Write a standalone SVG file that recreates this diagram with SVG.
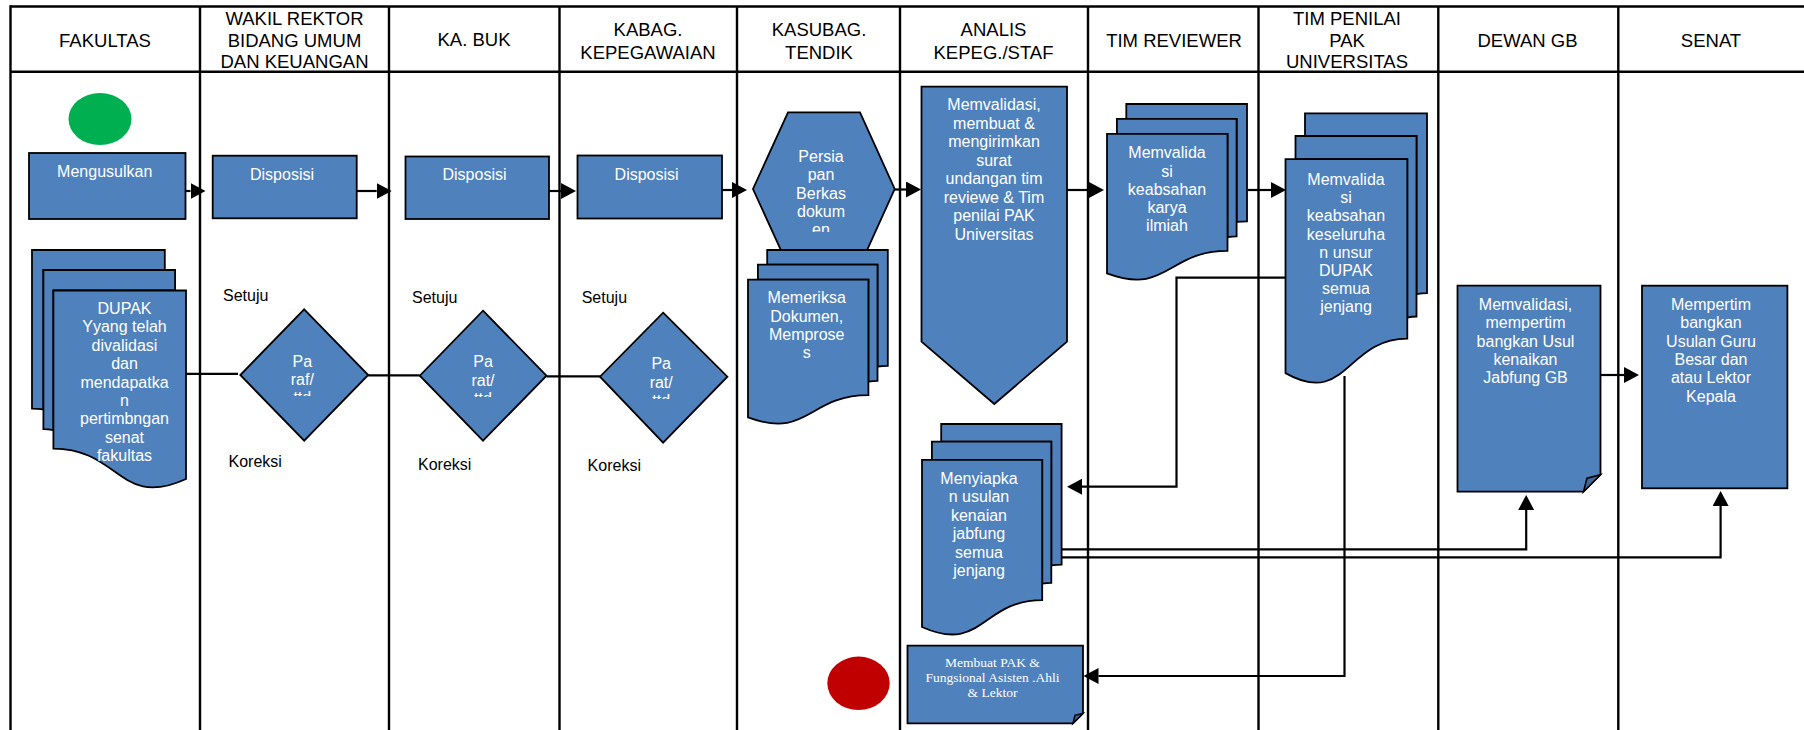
<svg xmlns="http://www.w3.org/2000/svg" width="1804" height="730" viewBox="0 0 1804 730">
<style>
.grid{stroke:#000;stroke-width:2.4;fill:none}
.hd{font-family:"Liberation Sans",Arial,sans-serif;font-size:18.5px;fill:#000;text-anchor:middle}
.sh{fill:#4F81BD;stroke:#000;stroke-width:1.8;stroke-linejoin:miter}
.fold{fill:#3F6797;stroke:#000;stroke-width:1.5}
.wt{font-family:"Liberation Sans",Arial,sans-serif;font-size:16px;fill:#fff;text-anchor:middle}
.wts{font-family:"Liberation Serif","Times New Roman",serif;font-size:13.5px;fill:#fff;text-anchor:middle}
.lb{font-family:"Liberation Sans",Arial,sans-serif;font-size:16px;fill:#000}
.cn{stroke:#000;stroke-width:2.2;fill:none}
.ar{marker-end:url(#ah)}
</style>
<defs>
<marker id="ah" markerWidth="15" markerHeight="16" refX="0" refY="8" orient="auto" markerUnits="userSpaceOnUse" viewBox="0 0 15 16"><path d="M0,0 L15,8 L0,16 Z" fill="#000"/></marker>
<clipPath id="cHex"><rect x="740" y="100" width="170" height="132"/></clipPath>
<clipPath id="cD1"><rect x="230" y="300" width="150" height="96"/></clipPath>
<clipPath id="cD2"><rect x="410" y="300" width="150" height="97"/></clipPath>
<clipPath id="cD3"><rect x="590" y="300" width="150" height="99"/></clipPath>
</defs>
<rect x="0" y="0" width="1804" height="730" fill="#fff"/>
<g id="grid">
<line class="grid" x1="10.5" y1="6.5" x2="1804" y2="6.5"/>
<line class="grid" x1="10.5" y1="71.7" x2="1804" y2="71.7"/>
<line class="grid" x1="10.5" y1="5.3" x2="10.5" y2="730"/>
<line class="grid" x1="200" y1="6.5" x2="200" y2="730"/>
<line class="grid" x1="389" y1="6.5" x2="389" y2="730"/>
<line class="grid" x1="559.5" y1="6.5" x2="559.5" y2="730"/>
<line class="grid" x1="737" y1="6.5" x2="737" y2="730"/>
<line class="grid" x1="900" y1="6.5" x2="900" y2="730"/>
<line class="grid" x1="1088" y1="6.5" x2="1088" y2="730"/>
<line class="grid" x1="1258.5" y1="6.5" x2="1258.5" y2="730"/>
<line class="grid" x1="1438.3" y1="6.5" x2="1438.3" y2="730"/>
<line class="grid" x1="1618.3" y1="6.5" x2="1618.3" y2="730"/>
</g>
<g id="headers">
<text class="hd" x="105" y="46.5">FAKULTAS</text>
<text class="hd"><tspan x="294.5" y="25">WAKIL REKTOR</tspan><tspan x="294.5" y="46.7">BIDANG UMUM</tspan><tspan x="294.5" y="68.3">DAN KEUANGAN</tspan></text>
<text class="hd" x="474" y="46">KA. BUK</text>
<text class="hd"><tspan x="648" y="36">KABAG.</tspan><tspan x="648" y="59">KEPEGAWAIAN</tspan></text>
<text class="hd"><tspan x="819" y="36">KASUBAG.</tspan><tspan x="819" y="59">TENDIK</tspan></text>
<text class="hd"><tspan x="993.5" y="36">ANALIS</tspan><tspan x="993.5" y="59">KEPEG./STAF</tspan></text>
<text class="hd" x="1174" y="46.5">TIM REVIEWER</text>
<text class="hd"><tspan x="1347" y="25">TIM PENILAI</tspan><tspan x="1347" y="46.7">PAK</tspan><tspan x="1347" y="68.3">UNIVERSITAS</tspan></text>
<text class="hd" x="1527.5" y="46.5">DEWAN GB</text>
<text class="hd" x="1711" y="46.5">SENAT</text>
</g>
<g id="start">
<ellipse cx="100" cy="119" rx="31.5" ry="26" fill="#00B050"/>
</g>
<g id="end">
<ellipse cx="858.5" cy="683.3" rx="31.2" ry="26.7" fill="#C00000"/>
</g>
<g id="mengusulkan">
<rect class="sh" x="29" y="153" width="156.5" height="66"/>
<text class="wt" x="104.7" y="176.5">Mengusulkan</text>
</g>
<g id="disposisi1">
<rect class="sh" x="212.7" y="155.7" width="144" height="62.6"/>
<text class="wt" x="282" y="179.8">Disposisi</text>
</g>
<g id="disposisi2">
<rect class="sh" x="405.5" y="156.5" width="143.5" height="62.5"/>
<text class="wt" x="474.5" y="180.3">Disposisi</text>
</g>
<g id="disposisi3">
<rect class="sh" x="577.5" y="155.5" width="144.5" height="63"/>
<text class="wt" x="646.6" y="179.6">Disposisi</text>
</g>
<g id="persiapan">
<polygon class="sh" points="788,112.3 860,112.3 894.7,189 860,265.7 788,265.7 753,189"/>
<text class="wt" clip-path="url(#cHex)"><tspan x="821" y="161.7">Persia</tspan><tspan x="821" y="180.1">pan</tspan><tspan x="821" y="198.5">Berkas</tspan><tspan x="821" y="216.9">dokum</tspan><tspan x="821" y="235.3">en</tspan></text>
</g>
<g id="memeriksa">
<path class="sh" d="M767.2,264.6 L767.2,250 L887.8,250 L887.8,365.9 C882.6,365.9 877.5,366.5 877.5,366.5 L877.5,264.6 Z"/>
<path class="sh" d="M757.9,279.6 L757.9,264.6 L877.5,264.6 L877.5,380.9 C872.9,380.9 868.4,381.7 868.4,381.7 L868.4,279.6 Z"/>
<path class="sh" d="M748,417.4 C808.2,439.6 808.2,395.2 868.4,395.2 L868.4,279.6 L748,279.6 Z"/>
<text class="wt"><tspan x="806.7" y="303.3">Memeriksa</tspan><tspan x="806.7" y="321.6">Dokumen,</tspan><tspan x="806.7" y="339.9">Memprose</tspan><tspan x="806.7" y="358.2">s</tspan></text>
</g>
<g id="dupak">
<path class="sh" d="M164.8,270 L164.8,250 L32,250 L32,408.6 C37.7,408.6 43.4,409.4 43.4,409.4 L43.4,270 Z"/>
<path class="sh" d="M175.1,290.5 L175.1,270 L43.4,270 L43.4,429.1 C48.4,429.1 53.4,430.2 53.4,430.2 L53.4,290.5 Z"/>
<path class="sh" d="M186,479 C119.7,509.4 119.7,448.6 53.4,448.6 L53.4,290.5 L186,290.5 Z"/>
<text class="wt"><tspan x="124.5" y="314">DUPAK</tspan><tspan x="124.5" y="332.4">Yyang telah</tspan><tspan x="124.5" y="350.8">divalidasi</tspan><tspan x="124.5" y="369.2">dan</tspan><tspan x="124.5" y="387.6">mendapatka</tspan><tspan x="124.5" y="406">n</tspan><tspan x="124.5" y="424.4">pertimbngan</tspan><tspan x="124.5" y="442.8">senat</tspan><tspan x="124.5" y="461.2">fakultas</tspan></text>
</g>
<g id="paraf1">
<polygon class="sh" points="304.2,309.3 368.2,375 304.2,440.7 240.3,375"/>
<text class="wt" clip-path="url(#cD1)"><tspan x="302.3" y="366.7">Pa</tspan><tspan x="302.3" y="385">raf/</tspan><tspan x="302.3" y="403.4">ttd</tspan></text>
</g>
<g id="paraf2">
<polygon class="sh" points="483,310.7 546.5,375.7 483,440.7 419.8,375.7"/>
<text class="wt" clip-path="url(#cD2)"><tspan x="483" y="367.3">Pa</tspan><tspan x="483" y="386">rat/</tspan><tspan x="483" y="404.4">ttd</tspan></text>
</g>
<g id="paraf3">
<polygon class="sh" points="663.1,312.7 727.4,376.7 663.1,442.7 600,376.7"/>
<text class="wt" clip-path="url(#cD3)"><tspan x="661.2" y="369.3">Pa</tspan><tspan x="661.2" y="387.7">rat/</tspan><tspan x="661.2" y="406.1">ttd</tspan></text>
</g>
<g id="labels">
<text class="lb" x="223" y="300.5">Setuju</text>
<text class="lb" x="228.5" y="466.7">Koreksi</text>
<text class="lb" x="412" y="302.5">Setuju</text>
<text class="lb" x="418" y="470">Koreksi</text>
<text class="lb" x="581.7" y="302.5">Setuju</text>
<text class="lb" x="587.6" y="470.5">Koreksi</text>
</g>
<g id="memvalidasi-analis">
<polygon class="sh" points="921.5,86.7 1067,86.7 1067,341.7 994.3,404 921.5,341.7"/>
<text class="wt"><tspan x="994" y="110">Memvalidasi,</tspan><tspan x="994" y="128.5">membuat &amp;</tspan><tspan x="994" y="147">mengirimkan</tspan><tspan x="994" y="165.5">surat</tspan><tspan x="994" y="184">undangan tim</tspan><tspan x="994" y="202.5">reviewe &amp; Tim</tspan><tspan x="994" y="221">penilai PAK</tspan><tspan x="994" y="239.5">Universitas</tspan></text>
</g>
<g id="reviewer">
<path class="sh" d="M1126.3,118.8 L1126.3,104 L1247,104 L1247,221.3 C1241.8,221.3 1236.6,221.9 1236.6,221.9 L1236.6,118.8 Z"/>
<path class="sh" d="M1116.9,133.9 L1116.9,118.8 L1236.6,118.8 L1236.6,236.4 C1232.1,236.4 1227.5,237.2 1227.5,237.2 L1227.5,133.9 Z"/>
<path class="sh" d="M1107,273.3 C1167.3,295.8 1167.3,250.9 1227.5,250.9 L1227.5,133.9 L1107,133.9 Z"/>
<text class="wt"><tspan x="1167" y="158.3">Memvalida</tspan><tspan x="1167" y="176.5">si</tspan><tspan x="1167" y="194.7">keabsahan</tspan><tspan x="1167" y="212.9">karya</tspan><tspan x="1167" y="231.1">ilmiah</tspan></text>
</g>
<g id="penilai">
<path class="sh" d="M1305,136 L1305,113.3 L1427,113.3 L1427,293.2 C1421.8,293.2 1416.5,294.2 1416.5,294.2 L1416.5,136 Z"/>
<path class="sh" d="M1295.5,159.2 L1295.5,136 L1416.5,136 L1416.5,316.5 C1411.9,316.5 1407.3,317.7 1407.3,317.7 L1407.3,159.2 Z"/>
<path class="sh" d="M1285.5,373.1 C1346.4,407.6 1346.4,338.6 1407.3,338.6 L1407.3,159.2 L1285.5,159.2 Z"/>
<text class="wt"><tspan x="1346" y="185">Memvalida</tspan><tspan x="1346" y="203.2">si</tspan><tspan x="1346" y="221.4">keabsahan</tspan><tspan x="1346" y="239.6">keseluruha</tspan><tspan x="1346" y="257.8">n unsur</tspan><tspan x="1346" y="276">DUPAK</tspan><tspan x="1346" y="294.2">semua</tspan><tspan x="1346" y="312.4">jenjang</tspan></text>
</g>
<g id="menyiapkan">
<path class="sh" d="M941.2,441.7 L941.2,424 L1061.6,424 L1061.6,564.6 C1056.4,564.6 1051.3,565.3 1051.3,565.3 L1051.3,441.7 Z"/>
<path class="sh" d="M931.9,459.9 L931.9,441.7 L1051.3,441.7 L1051.3,582.8 C1046.7,582.8 1042.2,583.7 1042.2,583.7 L1042.2,459.9 Z"/>
<path class="sh" d="M922,627 C982.1,654 982.1,600.1 1042.2,600.1 L1042.2,459.9 L922,459.9 Z"/>
<text class="wt"><tspan x="979" y="483.5">Menyiapka</tspan><tspan x="979" y="502">n usulan</tspan><tspan x="979" y="520.5">kenaian</tspan><tspan x="979" y="539">jabfung</tspan><tspan x="979" y="557.5">semua</tspan><tspan x="979" y="576">jenjang</tspan></text>
</g>
<g id="membuat-pak">
<path class="sh" d="M907.5,645.7 H1083 V713.3 L1073,723.3 H907.5 Z"/>
<path class="fold" d="M1073,723.3 L1075,715.3 L1083,713.3 Z"/>
<text class="wts"><tspan x="992.5" y="666.5">Membuat PAK &amp;</tspan><tspan x="992.5" y="681.8">Fungsional Asisten .Ahli</tspan><tspan x="992.5" y="697">&amp; Lektor</tspan></text>
</g>
<g id="dewan-gb">
<path class="sh" d="M1457.5,285.7 H1600.5 V474.7 L1583.5,491.7 H1457.5 Z"/>
<path class="fold" d="M1583.5,491.7 L1587,478.2 L1600.5,474.7 Z"/>
<text class="wt"><tspan x="1525.5" y="310">Memvalidasi,</tspan><tspan x="1525.5" y="328.3">mempertim</tspan><tspan x="1525.5" y="346.6">bangkan Usul</tspan><tspan x="1525.5" y="364.9">kenaikan</tspan><tspan x="1525.5" y="383.2">Jabfung GB</tspan></text>
</g>
<g id="senat">
<rect class="sh" x="1642" y="285.7" width="145.4" height="202.6"/>
<text class="wt"><tspan x="1711" y="310">Mempertim</tspan><tspan x="1711" y="328.3">bangkan</tspan><tspan x="1711" y="346.6">Usulan Guru</tspan><tspan x="1711" y="364.9">Besar dan</tspan><tspan x="1711" y="383.2">atau Lektor</tspan><tspan x="1711" y="401.5">Kepala</tspan></text>
</g>
<g id="connectors">
<path class="cn ar" d="M185.5,191 H190.5"/>
<path class="cn ar" d="M356.7,191 H376.7"/>
<path class="cn ar" d="M549,191 H561"/>
<path class="cn ar" d="M722,190 H732"/>
<path class="cn ar" d="M894.7,189.5 H906"/>
<path class="cn ar" d="M1067,190 H1089"/>
<path class="cn ar" d="M1248,190 H1271"/>
<path class="cn ar" d="M1285.5,277.7 H1176.5 V486.7 H1082"/>
<path class="cn ar" d="M1344.5,376 V676 H1098.5"/>
<path class="cn ar" d="M1062,549.3 H1526.2 V510"/>
<path class="cn ar" d="M1062,557.3 H1720.6 V506"/>
<path class="cn ar" d="M1600.5,375 H1624"/>
<path class="cn" d="M186.4,373.8 H238"/>
<path class="cn" d="M368.2,375.3 H419.8"/>
<path class="cn" d="M546.5,376.3 H600"/>
</g>
</svg>
